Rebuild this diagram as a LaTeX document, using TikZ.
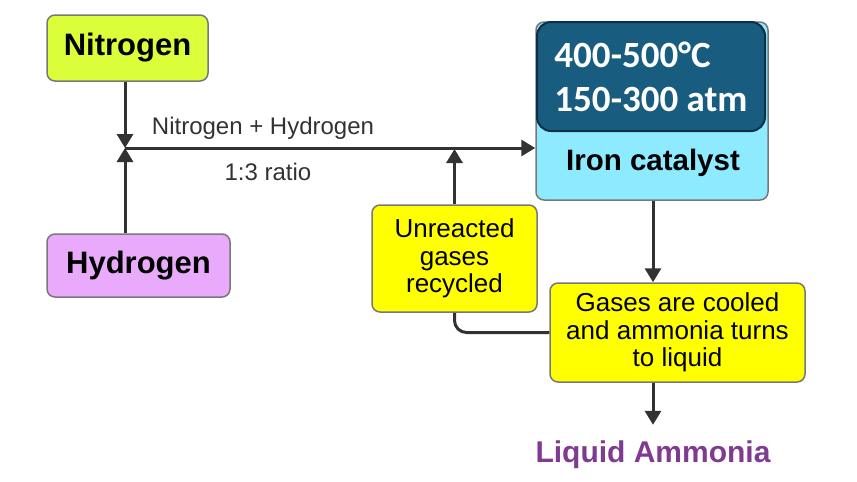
\documentclass[tikz,border=0pt]{standalone}
\usepackage{fontspec}
\setmainfont{Liberation Sans}
\newfontfamily\calfont{Carlito}
\usetikzlibrary{arrows.meta}

\definecolor{nitrofill}{RGB}{218,255,58}
\definecolor{hydrofill}{RGB}{234,170,252}
\definecolor{reactfill}{RGB}{142,235,255}
\definecolor{condfill}{RGB}{24,92,128}
\definecolor{conddraw}{RGB}{12,48,70}
\definecolor{notefill}{RGB}{255,255,0}
\definecolor{boxgray}{RGB}{120,120,120}
\definecolor{arrowgray}{RGB}{50,50,50}
\definecolor{ammoniapurple}{RGB}{128,58,145}

\tikzset{
  box/.style={draw=boxgray, line width=1.5pt, rounded corners=8pt, align=center, inner sep=0pt},
  flow/.style={draw=arrowgray, line width=3pt, -{Triangle[length=14pt,width=16pt]}},
  big/.style={font=\fontsize{31}{34}\selectfont\bfseries},
  note/.style={font=\fontsize{26}{27.5}\selectfont},
  small/.style={font=\fontsize{24}{26}\selectfont, text=arrowgray}
}

\begin{document}
\begin{tikzpicture}[x=1pt, y=-1pt]
\useasboundingbox (0,0) rectangle (857,482);
\node [box, big, fill=nitrofill, minimum width=161pt, minimum height=66pt] (nitro) at (127.5,48) {Nitrogen};
\node [box, big, fill=hydrofill, minimum width=183pt, minimum height=63pt] (hydro) at (138.5,265.5) {Hydrogen};
\node [box, fill=reactfill, minimum width=232pt, minimum height=178pt] (reactor) at (652,111) {};
\node [draw=conddraw, line width=2pt, fill=condfill, rounded corners=14pt, text=white, align=left,
       inner sep=0pt, minimum width=228pt, minimum height=109pt,
       font=\calfont\fontsize{37}{44}\selectfont\bfseries] (cond) at (651,76.5) {400-500°C\\150-300 atm};
\node [font=\fontsize{29.5}{32}\selectfont\bfseries] (iron) at (653,163) {Iron catalyst};
\node [box, note, fill=notefill, minimum width=165pt, minimum height=107pt] (unreac) at (454.5,258.5) {Unreacted\\gases\\recycled};
\node [box, note, fill=notefill, minimum width=255pt, minimum height=99pt] (gases) at (677.5,332.5) {Gases are cooled\\and ammonia turns\\to liquid};
\node [font=\fontsize{30}{32}\selectfont\bfseries, text=ammoniapurple, inner sep=0pt] (ammonia) at (653,455) {Liquid Ammonia};
\node [small] (mixlabel) at (263,128) {Nitrogen + Hydrogen};
\node [small] (ratio) at (268,172) {1:3 ratio};
\coordinate (join) at (125,148);
\coordinate (drop) at (653,0);

% Draw the gas flow, with the recycle loop back into the mix
\draw [flow] (nitro.south -| join) -- (join);
\draw [flow] (hydro.north -| join) -- (join);
\draw [flow] (join) -- (join -| reactor.west);
\draw [flow] (unreac.north) -- ([yshift=-1pt]unreac.north |- join);
\draw [flow] (reactor.south -| drop) -- (gases.north -| drop);
\draw [flow] (gases.south -| drop) -- ([yshift=16pt]ammonia.north -| drop);
\draw [draw=arrowgray, line width=3pt, rounded corners=12pt] (gases.west) -| (unreac.south);
\end{tikzpicture}
\end{document}
